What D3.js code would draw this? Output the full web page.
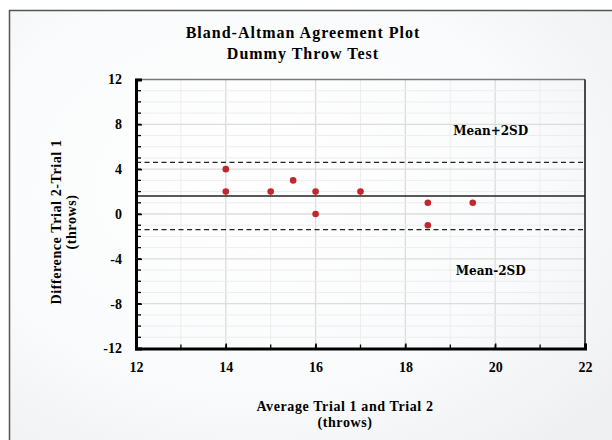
<!DOCTYPE html>
<html>
<head>
<meta charset="utf-8">
<script src="https://cdn.jsdelivr.net/npm/d3@7"></script>
<style>
  body { margin: 0; background: #fff; }
  text { font-family: "Liberation Serif", "Times New Roman", serif; font-weight: bold; }
</style>
</head>
<body>
<script>
// data
var avgTrials = [14, 14, 15, 15.5, 16, 16, 17, 18.5, 18.5, 19.5];
var diffTrials = [4, 2, 2, 3, 2, 0, 2, 1, -1, 1];
var meanDiff = 1.6;
var upperLimit = 4.6;
var lowerLimit = -1.4;
var xTicks = [12, 14, 16, 18, 20, 22];
var yTicks = [-12, -8, -4, 0, 4, 8, 12];

var W = 612, H = 440;
// plot box
var margin = {top: 79.5, right: 27, bottom: 91.5, left: 136},
    width = W - margin.left - margin.right,
    height = H - margin.top - margin.bottom;

var svg = d3.select("body").append("svg")
    .attr("width", W)
    .attr("height", H);

// soft background gradient
var defs = svg.append("defs");
var grad = defs.append("radialGradient")
    .attr("id", "bg")
    .attr("cx", "40%").attr("cy", "40%").attr("r", "75%");
grad.append("stop").attr("offset", "0%").attr("stop-color", "#ffffff");
grad.append("stop").attr("offset", "60%").attr("stop-color", "#fafbfc");
grad.append("stop").attr("offset", "100%").attr("stop-color", "#eef0f2");

svg.append("rect")
    .attr("x", 9.5).attr("y", 10.5)
    .attr("width", W).attr("height", H)
    .attr("fill", "url(#bg)")
    .attr("stroke", "#555")
    .attr("stroke-width", 1.5);

// title
var title = svg.append("text")
    .attr("text-anchor", "middle")
    .style("font-size", "16px")
    .style("letter-spacing", "1px");
title.append("tspan").attr("x", 303).attr("y", 38).text("Bland-Altman Agreement Plot");
title.append("tspan").attr("x", 303).attr("y", 59).text("Dummy Throw Test");

var g = svg.append("g")
    .attr("transform", "translate(" + margin.left + "," + margin.top + ")");

// set the ranges
var x = d3.scaleLinear().domain([12, 22]).range([0, width]);
var y = d3.scaleLinear().domain([-12, 12]).range([height, 0]);

// grid lines, every unit; even units a bit darker
g.append("g").selectAll("line")
    .data(d3.range(13, 22))
  .enter().append("line")
    .attr("x1", function(d) { return x(d); })
    .attr("x2", function(d) { return x(d); })
    .attr("y1", 0).attr("y2", height)
    .attr("stroke", function(d) { return d % 2 === 0 ? "#dcdcdc" : "#ededed"; })
    .attr("stroke-width", function(d) { return d % 2 === 0 ? 1.3 : 1; });

g.append("g").selectAll("line")
    .data(d3.range(-11, 12))
  .enter().append("line")
    .attr("y1", function(d) { return y(d); })
    .attr("y2", function(d) { return y(d); })
    .attr("x1", 0).attr("x2", width)
    .attr("stroke", function(d) { return d % 4 === 0 ? "#dcdcdc" : "#ededed"; })
    .attr("stroke-width", function(d) { return d % 4 === 0 ? 1.3 : 1; });

// top and right edges of the plot box
g.append("line")
    .attr("x1", 0).attr("x2", width).attr("y1", 0).attr("y2", 0)
    .attr("stroke", "#777").attr("stroke-width", 1.5);
g.append("line")
    .attr("x1", width).attr("x2", width).attr("y1", 0).attr("y2", height)
    .attr("stroke", "#111").attr("stroke-width", 1.5);

// minor inside ticks
g.append("g").selectAll("line")
    .data(d3.range(-11, 12))
  .enter().append("line")
    .attr("x1", 0).attr("x2", 5)
    .attr("y1", function(d) { return y(d); })
    .attr("y2", function(d) { return y(d); })
    .attr("stroke", "#000").attr("stroke-width", 1.3);
g.append("g").selectAll("line")
    .data(d3.range(13, 22))
  .enter().append("line")
    .attr("x1", function(d) { return x(d); })
    .attr("x2", function(d) { return x(d); })
    .attr("y1", height).attr("y2", height - 4)
    .attr("stroke", "#000").attr("stroke-width", 1.3);

// mean and limit lines
g.append("line")
    .attr("x1", 0).attr("x2", width)
    .attr("y1", y(meanDiff)).attr("y2", y(meanDiff))
    .attr("stroke", "#222").attr("stroke-width", 1.4);
[upperLimit, lowerLimit].forEach(function(v) {
  g.append("line")
      .attr("x1", 0).attr("x2", width)
      .attr("y1", y(v)).attr("y2", y(v))
      .attr("stroke", "#222").attr("stroke-width", 1.2)
      .attr("stroke-dasharray", "5,3.5");
});

// limit labels
g.append("text")
    .attr("x", x(19.9)).attr("y", y(upperLimit) - 27)
    .attr("text-anchor", "middle")
    .style("font-family", "'DejaVu Serif', serif")
    .style("font-size", "12px")
    .text("Mean+2SD");
g.append("text")
    .attr("x", x(19.9)).attr("y", y(lowerLimit) + 45)
    .attr("text-anchor", "middle")
    .style("font-family", "'DejaVu Serif', serif")
    .style("font-size", "12px")
    .text("Mean-2SD");

// points
g.selectAll(".dot")
    .data(avgTrials)
  .enter().append("circle")
    .attr("class", "dot")
    .attr("cx", function(d) { return x(d); })
    .attr("cy", function(d, i) { return y(diffTrials[i]); })
    .attr("r", 3.3)
    .attr("fill", "#c1272d");

// axes
var plain = function(d) { return String(d); };
var xAxis = g.append("g")
    .attr("transform", "translate(0," + height + ")")
    .call(d3.axisBottom(x).tickValues(xTicks).tickFormat(plain).tickSize(-5).tickPadding(12));
var yAxis = g.append("g")
    .call(d3.axisLeft(y).tickValues(yTicks).tickFormat(plain).tickSize(-6).tickPadding(13));

[xAxis, yAxis].forEach(function(a) {
  a.select(".domain").attr("stroke", "#000").attr("stroke-width", 3);
  a.selectAll(".tick line").attr("stroke", "#000").attr("stroke-width", 1.5);
  a.selectAll(".tick text")
      .style("font-family", "'Liberation Serif', serif")
      .style("font-weight", "bold")
      .style("font-size", "14px")
      .attr("fill", "#000");
});
xAxis.selectAll(".tick text").attr("dy", "0.85em");
yAxis.selectAll(".tick text").attr("x", -14);

// x axis title
var xt = svg.append("text")
    .attr("text-anchor", "middle")
    .style("font-size", "14px")
    .style("letter-spacing", "0.6px");
xt.append("tspan").attr("x", 345).attr("y", 411).text("Average Trial 1 and Trial 2");
xt.append("tspan").attr("x", 345).attr("y", 427).text("(throws)");

// y axis title
var yt = svg.append("text")
    .attr("text-anchor", "middle")
    .attr("transform", "translate(61,222)rotate(-90)")
    .style("font-size", "14px")
    .style("letter-spacing", "0.6px");
yt.append("tspan").attr("x", 0).attr("y", 0).text("Difference Trial 2-Trial 1");
yt.append("tspan").attr("x", 0).attr("y", 15).text("(throws)");
</script>
</body>
</html>
